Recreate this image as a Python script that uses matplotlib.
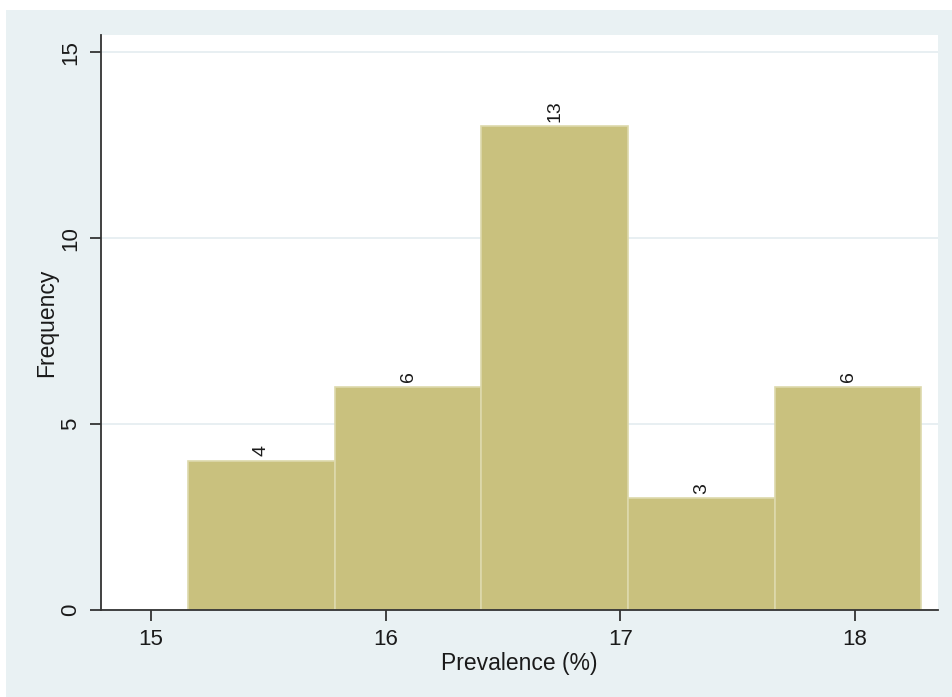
import matplotlib.pyplot as plt
from matplotlib.patches import Rectangle

# histogram data
bin_edges = [15.158, 15.783, 16.408, 17.033, 17.658, 18.283]
counts = [4, 6, 13, 3, 6]
x_ticks = [15, 16, 17, 18]
y_ticks = [0, 5, 10, 15]

bar_color = "#C9C17E"
edge_color = "#DDD9AC"
region_color = "#E9F1F3"
grid_color = "#E6EEF1"
text_color = "#1a1a1a"

plt.rcParams["font.family"] = ["Liberation Sans", "DejaVu Sans"]


def main():
    fig = plt.figure(figsize=(9.53, 6.97), dpi=100)
    fig.patch.set_facecolor("white")
    # light graph region behind the plot (white strip top and left)
    fig.patches.append(Rectangle((6 / 953, 0), 1 - 6 / 953, 1 - 10 / 697,
                                 transform=fig.transFigure, facecolor=region_color,
                                 edgecolor="none", zorder=-10))

    ax = fig.add_axes([101 / 953, 1 - 610 / 697, (938 - 101) / 953, (610 - 35) / 697])
    ax.set_facecolor("white")

    widths = [bin_edges[i + 1] - bin_edges[i] for i in range(len(counts))]
    bars = ax.bar(bin_edges[:-1], counts, width=widths, align="edge",
                  color=bar_color, edgecolor=edge_color, linewidth=1.2, zorder=2)

    for b, c in zip(bars, counts):
        ax.annotate(str(c), (b.get_x() + b.get_width() / 2, c),
                    xytext=(0, 3.5), textcoords="offset points",
                    rotation=90, ha="center", va="bottom",
                    fontsize=14, color=text_color)

    ax.set_xlim(14.787, 18.354)
    ax.set_ylim(0, 15.46)
    ax.set_xticks(x_ticks)
    ax.set_yticks(y_ticks)
    ax.set_yticklabels([str(v) for v in y_ticks], rotation=90, va="center")

    ax.yaxis.grid(True, color=grid_color, linewidth=1.3, zorder=0)
    ax.set_axisbelow(True)

    for side in ["top", "right"]:
        ax.spines[side].set_visible(False)
    for side in ["left", "bottom"]:
        ax.spines[side].set_color("#333333")
        ax.spines[side].set_linewidth(1.3)

    ax.tick_params(axis="both", length=8, width=1.3, color="#333333",
                   labelsize=16, labelcolor=text_color, pad=6)

    ax.set_xlabel("Prevalence (%)", fontsize=16.5, color=text_color, labelpad=1)
    ax.set_ylabel("Frequency", fontsize=16.5, color=text_color, labelpad=2)

    plt.savefig("out.png", dpi=100, facecolor=fig.get_facecolor())


if __name__ == "__main__":
    main()
